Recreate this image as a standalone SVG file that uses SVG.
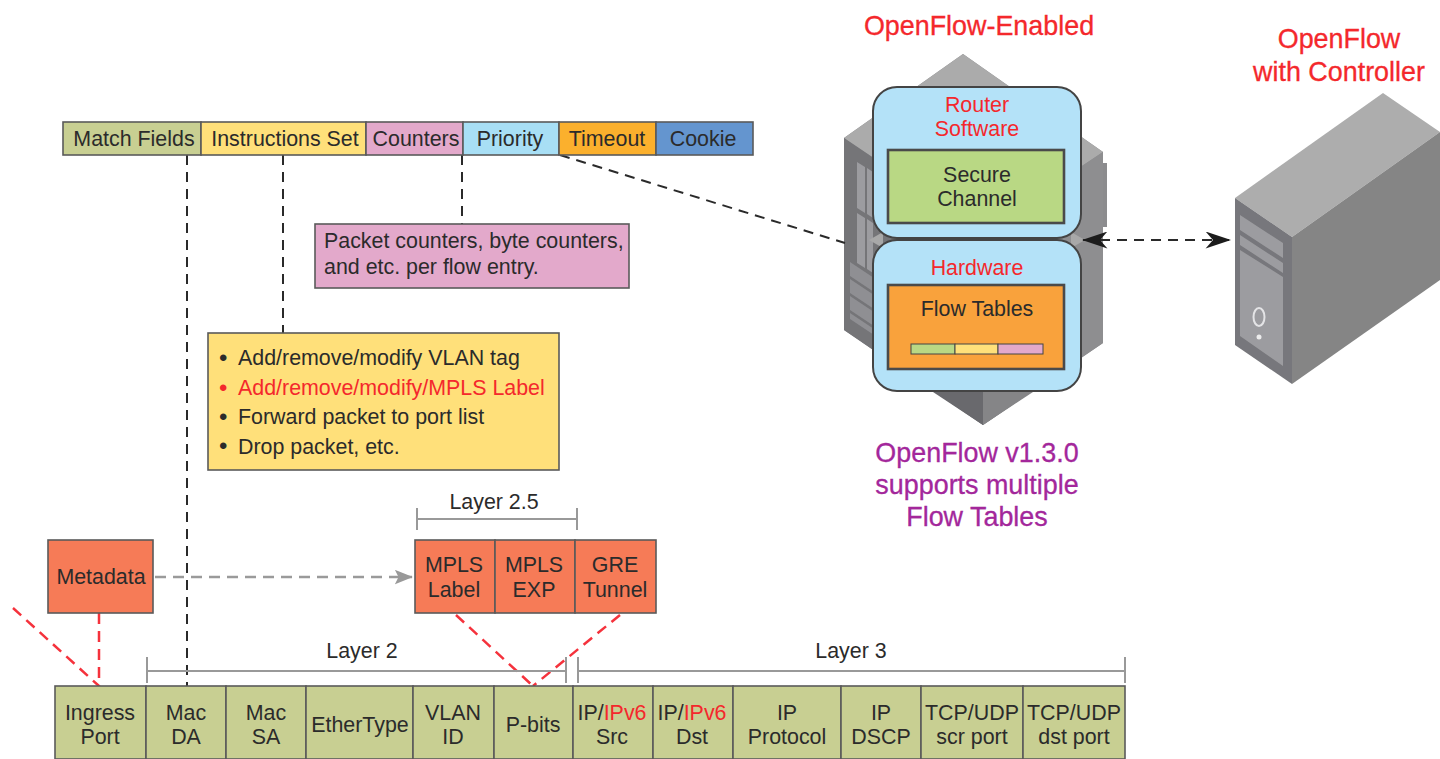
<svg xmlns="http://www.w3.org/2000/svg" width="1440" height="759" viewBox="0 0 1440 759">
<style>
text{font-family:"Liberation Sans",Arial,sans-serif;font-size:21.4px;fill:#2b2b2b;text-anchor:middle}
.l{text-anchor:start}
.r{fill:#f4282c}
.big{font-size:26.9px;stroke:#f4282c;stroke-width:.3}
.p{fill:#a3279b;font-size:26.9px;stroke:#a3279b;stroke-width:.3}
.bu{font-size:24px}
.box{stroke:#5a5a5a;stroke-width:1.6}
.g{fill:#c8cf92}.y{fill:#ffe07a}.k{fill:#e3a9cb}.b{fill:#a8dff5}.o{fill:#fbb02d}.c{fill:#6495cf}.s{fill:#f67b57}
.d{fill:none;stroke:#2a2a2a;stroke-width:2;stroke-dasharray:10 7}
.dg{fill:none;stroke:#9a9a9a;stroke-width:2.4;stroke-dasharray:11 7}
.red{fill:none;stroke:#f5323c;stroke-width:2.5;stroke-dasharray:11 7}
.br{fill:none;stroke:#999;stroke-width:2}
</style>
<defs>
<filter id="soft" x="-5%" y="-5%" width="110%" height="110%"><feGaussianBlur stdDeviation="0.6"/></filter>
<marker id="ah" viewBox="0 0 24 16" refX="23" refY="8" markerWidth="26" markerHeight="17" markerUnits="userSpaceOnUse" orient="auto-start-reverse"><path d="M0 0L24 8L0 16L7 8Z" fill="#1c1c1c"/></marker>
<marker id="ag" viewBox="0 0 20 16" refX="19" refY="8" markerWidth="18" markerHeight="15" markerUnits="userSpaceOnUse" orient="auto"><path d="M0 0L20 8L0 16L4 8Z" fill="#999"/></marker>
</defs>

<g id="router-chassis" filter="url(#soft)">
<path d="M1103 163H1107V227H1103Z" fill="#8c8c8e"/>
<path d="M844 138L963 54L1103 152V343L983 425L844 330Z" fill="#8a8a8c"/>
<path d="M844 138L963 54L1103 152L983 232Z" fill="#ababab"/>
<path d="M983 232L1103 152V343L983 425Z" fill="#8e8e90"/>
<path d="M844 138L983 232V425L844 330Z" fill="#747478"/>
<path d="M983 392H1033L983 425Z" fill="#858587"/>
<path d="M933 392H983V425Z" fill="#69696d"/>
<path d="M857 162l8 5v46l-8-5ZM867 168l6 4v46l-6-4ZM857 213l8 5v50l-8-5ZM867 219l6 4v50l-6-4Z" fill="#9c9ca0"/>
<path d="M850 262l24 16v14l-24-16ZM850 279l24 16v14l-24-16ZM850 296l24 16v14l-24-16ZM850 313l24 16v6l-24-16Z" fill="#8f8f93"/>
<path d="M869 240l14-8v16Z" fill="#a8a8a8"/>
<path d="M1085 240l-14-8v16Z" fill="#a8a8a8"/>
</g>

<g id="server" filter="url(#soft)">
<path d="M1235 198L1383 93L1440 132L1292 237Z" fill="#adadad"/>
<path d="M1292 237L1440 132V280L1292 384Z" fill="#858585"/>
<path d="M1235 198L1292 237V384L1235 345Z" fill="#77777b"/>
<path d="M1240 215L1283 243V258L1240 230ZM1240 235L1283 263V273L1240 245ZM1240 250L1283 277V366L1240 336Z" fill="#9c9ca0"/>
<ellipse cx="1259" cy="317" rx="5.5" ry="9" fill="none" stroke="#e4e4e6" stroke-width="2"/>
<circle cx="1259" cy="337" r="2.5" fill="#ececec"/>
</g>

<g id="connectors">
<path class="d" d="M187 155V693"/>
<path class="d" d="M283 155V333"/>
<path class="d" d="M462 155V224"/>
<path class="d" d="M560 155L845 243"/>
<path class="d" d="M1083 240H1230" marker-start="url(#ah)" marker-end="url(#ah)"/>
<path class="dg" d="M155 577H412" marker-end="url(#ag)"/>
<path class="red" d="M13 608L99 686"/>
<path class="red" d="M99 613V686"/>
<path class="red" d="M456 615L533 686"/>
<path class="red" d="M620 615L533 686"/>
</g>

<g id="flow-entry">
<rect class="g box" x="63" y="122" width="138" height="33"/><text x="134" y="146">Match Fields</text>
<rect class="y box" x="201" y="122" width="165" height="33"/><text x="285" y="146">Instructions Set</text>
<rect class="k box" x="366" y="122" width="97" height="33"/><text x="416" y="146">Counters</text>
<rect class="b box" x="463" y="122" width="96" height="33"/><text x="510" y="146">Priority</text>
<rect class="o box" x="559" y="122" width="97" height="33"/><text x="607" y="146">Timeout</text>
<rect class="c box" x="656" y="122" width="97" height="33"/><text x="703" y="146">Cookie</text>
</g>

<g id="counters-note">
<rect class="k box" x="315" y="224" width="314" height="64"/>
<text class="l" x="324" y="248">Packet counters, byte counters,</text>
<text class="l" x="324" y="274">and etc. per flow entry.</text>
</g>

<g id="instructions-note">
<rect class="y box" x="208" y="333" width="351" height="137"/>
<text class="l bu" x="219" y="366">•</text><text class="l" x="238" y="365">Add/remove/modify VLAN tag</text>
<text class="l r bu" x="219" y="396">•</text><text class="l r" x="238" y="395">Add/remove/modify/MPLS Label</text>
<text class="l bu" x="219" y="425">•</text><text class="l" x="238" y="424">Forward packet to port list</text>
<text class="l bu" x="219" y="454">•</text><text class="l" x="238" y="454">Drop packet, etc.</text>
</g>

<g id="router-software">
<rect x="873" y="87" width="208" height="151" rx="24" fill="#b4e2f8" stroke="#444" stroke-width="2"/>
<text class="r" x="977" y="112">Router</text><text class="r" x="977" y="136">Software</text>
<rect x="888" y="150" width="176" height="73" fill="#b9d884" stroke="#4a4a4a" stroke-width="2.6"/>
<text x="977" y="182">Secure</text><text x="977" y="206">Channel</text>
</g>
<g id="hardware">
<rect x="873" y="240" width="208" height="151" rx="24" fill="#b4e2f8" stroke="#444" stroke-width="2"/>
<text class="r" x="977" y="275">Hardware</text>
<rect x="888" y="285" width="176" height="84" fill="#f9a23c" stroke="#4a4a4a" stroke-width="2.6"/>
<text x="977" y="316">Flow Tables</text>
<rect x="911" y="344" width="44" height="10" fill="#b9d884" stroke="#444"/>
<rect x="955" y="344" width="43" height="10" fill="#ffe07a" stroke="#444"/>
<rect x="998" y="344" width="45" height="10" fill="#e3a9cb" stroke="#444"/>
</g>

<g id="captions">
<text class="r big" x="979" y="35">OpenFlow-Enabled</text>
<text class="r big" x="1339" y="48">OpenFlow</text>
<text class="r big" x="1339" y="81">with Controller</text>
<text class="p" x="977" y="462">OpenFlow v1.3.0</text>
<text class="p" x="977" y="494">supports multiple</text>
<text class="p" x="977" y="526">Flow Tables</text>
</g>

<g id="layer-2-5"><path class="br" d="M417 508V530M417 519H577M577 508V530"/><text x="494" y="509">Layer 2.5</text></g>
<g id="layer-2"><path class="br" d="M147 657V683M147 671H566M566 657V683"/><text x="362" y="658">Layer 2</text></g>
<g id="layer-3"><path class="br" d="M578 657V683M578 671H1125M1125 657V683"/><text x="851" y="658">Layer 3</text></g>

<g id="metadata"><rect class="s box" x="48" y="540" width="105" height="73"/><text x="101" y="584">Metadata</text></g>
<g id="mpls-label"><rect class="s box" x="415" y="540" width="80" height="73"/><text x="454" y="572">MPLS</text><text x="454" y="597">Label</text></g>
<g id="mpls-exp"><rect class="s box" x="495" y="540" width="80" height="73"/><text x="534" y="572">MPLS</text><text x="534" y="597">EXP</text></g>
<g id="gre-tunnel"><rect class="s box" x="575" y="540" width="81" height="73"/><text x="615" y="572">GRE</text><text x="615" y="597">Tunnel</text></g>

<g id="ingress-port"><rect class="g box" x="55" y="686" width="91" height="73"/><text x="100" y="720">Ingress</text><text x="100" y="744">Port</text></g>
<g id="mac-da"><rect class="g box" x="146" y="686" width="80" height="73"/><text x="186" y="720">Mac</text><text x="186" y="744">DA</text></g>
<g id="mac-sa"><rect class="g box" x="226" y="686" width="80" height="73"/><text x="266" y="720">Mac</text><text x="266" y="744">SA</text></g>
<g id="ethertype"><rect class="g box" x="306" y="686" width="107" height="73"/><text x="360" y="732">EtherType</text></g>
<g id="vlan-id"><rect class="g box" x="413" y="686" width="81" height="73"/><text x="453" y="720">VLAN</text><text x="453" y="744">ID</text></g>
<g id="p-bits"><rect class="g box" x="494" y="686" width="79" height="73"/><text x="533" y="732">P-bits</text></g>
<g id="ip-src"><rect class="g box" x="573" y="686" width="80" height="73"/><text x="612" y="720">IP/<tspan class="r">IPv6</tspan></text><text x="612" y="744">Src</text></g>
<g id="ip-dst"><rect class="g box" x="653" y="686" width="80" height="73"/><text x="692" y="720">IP/<tspan class="r">IPv6</tspan></text><text x="692" y="744">Dst</text></g>
<g id="ip-protocol"><rect class="g box" x="733" y="686" width="108" height="73"/><text x="787" y="720">IP</text><text x="787" y="744">Protocol</text></g>
<g id="ip-dscp"><rect class="g box" x="841" y="686" width="80" height="73"/><text x="881" y="720">IP</text><text x="881" y="744">DSCP</text></g>
<g id="tcp-src"><rect class="g box" x="921" y="686" width="102" height="73"/><text x="972" y="720">TCP/UDP</text><text x="972" y="744">scr port</text></g>
<g id="tcp-dst"><rect class="g box" x="1023" y="686" width="102" height="73"/><text x="1074" y="720">TCP/UDP</text><text x="1074" y="744">dst port</text></g>
</svg>
